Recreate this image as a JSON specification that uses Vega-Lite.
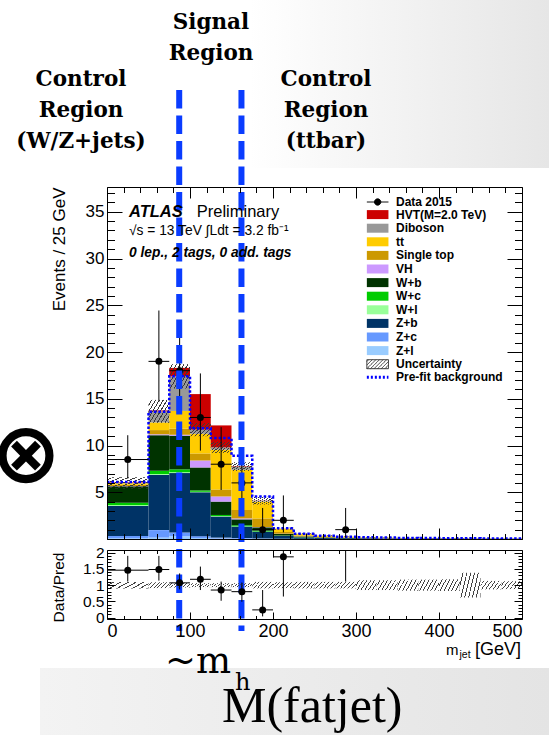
{
  "$schema": "https://vega.github.io/schema/vega-lite/v6.json",
  "padding": {"left": 107, "top": 187, "right": 442, "bottom": 548},
  "autosize": {"type": "none"},
  "background": "#ffffff",
  "bounds": "flush",
  "spacing": 11,
  "config": {
    "view": {"stroke": null},
    "font": "Liberation Sans",
    "axis": {"grid": false, "labelFont": "Liberation Sans", "titleFont": "Liberation Sans", "labelColor": "#000000", "titleColor": "#000000", "tickColor": "#000000", "domainColor": "#000000", "titleFontWeight": "normal"}
  },
  "datasets": {
    "bins": [
      {"lo": 0, "hi": 50, "Z+l": 0.08, "Z+c": 0.25, "Z+b": 3.2, "W+l": 0.1, "W+c": 0.26, "W+b": 1.75, "VH": 0.03, "Single top": 0.12, "tt": 0.17, "Diboson": 0.05, "HVT": 0.05, "prefit": 6.1, "unc": 0.1},
      {"lo": 50, "hi": 75, "Z+l": 0.15, "Z+c": 0.8, "Z+b": 5.9, "W+l": 0.1, "W+c": 0.35, "W+b": 3.8, "VH": 0.1, "Single top": 0.45, "tt": 0.82, "Diboson": 1.18, "HVT": 0.1, "prefit": 13.6, "unc": 0.09},
      {"lo": 75, "hi": 100, "Z+l": 0.3, "Z+c": 0.4, "Z+b": 6.35, "W+l": 0.1, "W+c": 0.3, "W+b": 3.6, "VH": 0.1, "Single top": 0.65, "tt": 1.9, "Diboson": 3.7, "HVT": 0.9, "prefit": 17.4, "unc": 0.075},
      {"lo": 100, "hi": 125, "Z+l": 0.1, "Z+c": 0.2, "Z+b": 4.7, "W+l": 0.05, "W+c": 0.15, "W+b": 2.45, "VH": 0.75, "Single top": 0.75, "tt": 2.1, "Diboson": 0.45, "HVT": 3.8, "prefit": 11.85, "unc": 0.06},
      {"lo": 125, "hi": 150, "Z+l": 0.05, "Z+c": 0.1, "Z+b": 2.25, "W+l": 0.05, "W+c": 0.12, "W+b": 1.43, "VH": 0.55, "Single top": 0.75, "tt": 4.25, "Diboson": 0.25, "HVT": 2.35, "prefit": 10.8, "unc": 0.06},
      {"lo": 150, "hi": 175, "Z+l": 0.03, "Z+c": 0.07, "Z+b": 1.22, "W+l": 0.03, "W+c": 0.12, "W+b": 0.63, "VH": 0.1, "Single top": 0.9, "tt": 4.3, "Diboson": 0.35, "HVT": 0.05, "prefit": 8.9, "unc": 0.06},
      {"lo": 175, "hi": 200, "Z+l": 0.02, "Z+c": 0.04, "Z+b": 0.72, "W+l": 0.02, "W+c": 0.1, "W+b": 0.35, "VH": 0.03, "Single top": 0.92, "tt": 1.8, "Diboson": 0.1, "HVT": 0.02, "prefit": 4.55, "unc": 0.1},
      {"lo": 200, "hi": 225, "Z+l": 0.01, "Z+c": 0.02, "Z+b": 0.3, "W+l": 0.01, "W+c": 0.03, "W+b": 0.18, "VH": 0.02, "Single top": 0.18, "tt": 0.33, "Diboson": 0.02, "HVT": 0.01, "prefit": 1.15, "unc": 0.09},
      {"lo": 225, "hi": 250, "Z+l": 0.01, "Z+c": 0.01, "Z+b": 0.15, "W+l": 0, "W+c": 0.02, "W+b": 0.08, "VH": 0.01, "Single top": 0.1, "tt": 0.15, "Diboson": 0.02, "HVT": 0.01, "prefit": 0.55, "unc": 0.1},
      {"lo": 250, "hi": 275, "Z+l": 0.005, "Z+c": 0.005, "Z+b": 0.1, "W+l": 0, "W+c": 0.01, "W+b": 0.05, "VH": 0, "Single top": 0.06, "tt": 0.1, "Diboson": 0.02, "HVT": 0.01, "prefit": 0.35, "unc": 0.1},
      {"lo": 275, "hi": 300, "Z+l": 0, "Z+c": 0, "Z+b": 0.08, "W+l": 0, "W+c": 0, "W+b": 0.04, "VH": 0, "Single top": 0.04, "tt": 0.07, "Diboson": 0.02, "HVT": 0.005, "prefit": 0.25, "unc": 0.1},
      {"lo": 300, "hi": 325, "Z+l": 0, "Z+c": 0, "Z+b": 0.06, "W+l": 0, "W+c": 0, "W+b": 0.03, "VH": 0, "Single top": 0.03, "tt": 0.05, "Diboson": 0.01, "HVT": 0, "prefit": 0.18, "unc": 0.15},
      {"lo": 325, "hi": 350, "Z+l": 0, "Z+c": 0, "Z+b": 0.05, "W+l": 0, "W+c": 0, "W+b": 0.02, "VH": 0, "Single top": 0.03, "tt": 0.04, "Diboson": 0.01, "HVT": 0, "prefit": 0.15, "unc": 0.15},
      {"lo": 350, "hi": 375, "Z+l": 0, "Z+c": 0, "Z+b": 0.04, "W+l": 0, "W+c": 0, "W+b": 0.02, "VH": 0, "Single top": 0.02, "tt": 0.03, "Diboson": 0.01, "HVT": 0, "prefit": 0.12, "unc": 0.17},
      {"lo": 375, "hi": 400, "Z+l": 0, "Z+c": 0, "Z+b": 0.03, "W+l": 0, "W+c": 0, "W+b": 0.02, "VH": 0, "Single top": 0.02, "tt": 0.02, "Diboson": 0.01, "HVT": 0, "prefit": 0.1, "unc": 0.17},
      {"lo": 400, "hi": 425, "Z+l": 0, "Z+c": 0, "Z+b": 0.03, "W+l": 0, "W+c": 0, "W+b": 0.01, "VH": 0, "Single top": 0.01, "tt": 0.02, "Diboson": 0.01, "HVT": 0, "prefit": 0.08, "unc": 0.18},
      {"lo": 425, "hi": 450, "Z+l": 0, "Z+c": 0, "Z+b": 0.02, "W+l": 0, "W+c": 0, "W+b": 0.01, "VH": 0, "Single top": 0.01, "tt": 0.02, "Diboson": 0.01, "HVT": 0, "prefit": 0.07, "unc": 0.38},
      {"lo": 450, "hi": 475, "Z+l": 0, "Z+c": 0, "Z+b": 0.02, "W+l": 0, "W+c": 0, "W+b": 0.01, "VH": 0, "Single top": 0.01, "tt": 0.01, "Diboson": 0.01, "HVT": 0, "prefit": 0.06, "unc": 0.13},
      {"lo": 475, "hi": 500, "Z+l": 0, "Z+c": 0, "Z+b": 0.02, "W+l": 0, "W+c": 0, "W+b": 0.01, "VH": 0, "Single top": 0.01, "tt": 0.01, "Diboson": 0, "HVT": 0, "prefit": 0.05, "unc": 0.12}
    ],
    "obs": [
      {"lo": 0, "hi": 50, "n": 8.5, "nlo": 6.46, "nhi": 11.1},
      {"lo": 50, "hi": 75, "n": 19, "nlo": 14.68, "nhi": 24.44},
      {"lo": 75, "hi": 100, "n": 18, "nlo": 13.8, "nhi": 23.33},
      {"lo": 100, "hi": 125, "n": 13, "nlo": 9.45, "nhi": 17.71},
      {"lo": 125, "hi": 150, "n": 8, "nlo": 5.24, "nhi": 11.96},
      {"lo": 150, "hi": 175, "n": 6, "nlo": 3.63, "nhi": 9.6},
      {"lo": 175, "hi": 200, "n": 1, "nlo": 0.17, "nhi": 3.32},
      {"lo": 200, "hi": 225, "n": 2, "nlo": 0.71, "nhi": 4.66},
      {"lo": 275, "hi": 300, "n": 1, "nlo": 0.17, "nhi": 3.32}
    ],
    "ratio": [
      {"lo": 0, "hi": 50, "r": 1.46, "rlo": 1.11, "rhi": 1.9},
      {"lo": 50, "hi": 75, "r": 1.48, "rlo": 1.14, "rhi": 1.9},
      {"lo": 75, "hi": 100, "r": 1.07, "rlo": 0.87, "rhi": 1.36},
      {"lo": 100, "hi": 125, "r": 1.18, "rlo": 0.85, "rhi": 1.57},
      {"lo": 125, "hi": 150, "r": 0.85, "rlo": 0.52, "rhi": 1.11},
      {"lo": 150, "hi": 175, "r": 0.8, "rlo": 0.49, "rhi": 1.08},
      {"lo": 175, "hi": 200, "r": 0.24, "rlo": 0.04, "rhi": 0.85},
      {"lo": 200, "hi": 225, "r": 1.87, "rlo": 0.65, "rhi": 4.3},
      {"lo": 275, "hi": 300, "r": 4.0, "rlo": 1.11, "rhi": 13.3}
    ],
    "regions": [{"edge": 87}, {"edge": 162}]
  },
  "vconcat": [
    {
      "width": 415,
      "height": 352,
      "resolve": {"axis": {"x": "independent", "y": "independent"}},
      "layer": [
        {
          "data": {"values": [{}]},
          "mark": {"type": "rect", "fill": "#ffffff", "clip": false},
          "encoding": {
            "x": {"datum": -128.916, "type": "quantitative", "scale": {"domain": [0, 500], "nice": false, "zero": false}, "axis": null},
            "x2": {"datum": 532.53},
            "y": {"datum": 57.65, "type": "quantitative", "scale": {"domain": [0, 37.65], "nice": false, "zero": false}, "axis": null},
            "y2": {"datum": -20.964}
          }
        },
        {
          "data": {"values": [{}]},
          "mark": {"type": "rect", "clip": false, "fill": {"gradient": "linear", "x1": 0, "y1": 0, "x2": 1, "y2": 0, "stops": [{"offset": 0, "color": "#ffffff"}, {"offset": 1, "color": "#e6e6e6"}]}},
          "encoding": {
            "x": {"datum": 172.29, "type": "quantitative", "scale": {"domain": [0, 500], "nice": false, "zero": false}, "axis": null},
            "x2": {"datum": 532.53},
            "y": {"datum": 57.65, "type": "quantitative", "scale": {"domain": [0, 37.65], "nice": false, "zero": false}, "axis": null},
            "y2": {"datum": 39.68}
          }
        },
        {
          "data": {"values": [{}]},
          "mark": {"type": "rect", "clip": false, "fill": {"gradient": "linear", "x1": 0, "y1": 0, "x2": 1, "y2": 0, "stops": [{"offset": 0, "color": "#f3f3f3"}, {"offset": 1, "color": "#e4e4e4"}]}},
          "encoding": {
            "x": {"datum": -80.72, "type": "quantitative", "scale": {"domain": [0, 500], "nice": false, "zero": false}, "axis": null},
            "x2": {"datum": 532.53},
            "y": {"datum": -13.798, "type": "quantitative", "scale": {"domain": [0, 37.65], "nice": false, "zero": false}, "axis": null},
            "y2": {"datum": -20.964}
          }
        },
        {
          "data": {"name": "bins"},
          "transform": [
            {"fold": ["Z+l", "Z+c", "Z+b", "W+l", "W+c", "W+b", "VH", "Single top", "tt", "Diboson", "HVT"], "as": ["key", "n"]},
            {"calculate": "indexof(['Z+l','Z+c','Z+b','W+l','W+c','W+b','VH','Single top','tt','Diboson','HVT'], datum.key)", "as": "k"},
            {"calculate": "datum.key === 'HVT' ? 'HVT(M=2.0 TeV)' : datum.key", "as": "process"},
            {"stack": "n", "groupby": ["lo"], "sort": [{"field": "k", "order": "ascending"}], "as": ["y0", "y1"]}
          ],
          "mark": {"type": "rect"},
          "encoding": {
            "x": {"field": "lo", "type": "quantitative", "scale": {"domain": [0, 500], "nice": false, "zero": false},
              "axis": {"orient": "bottom", "values": [0, 20, 40, 60, 80, 100, 120, 140, 160, 180, 200, 220, 240, 260, 280, 300, 320, 340, 360, 380, 400, 420, 440, 460, 480, 500], "labels": false, "title": null, "domain": true, "domainWidth": 1, "tickWidth": 1, "tickSize": {"condition": {"test": "datum.value % 100 === 0", "value": -11}, "value": -5.5}, "zindex": 1}},
            "x2": {"field": "hi"},
            "y": {"field": "y1", "type": "quantitative", "scale": {"domain": [0, 37.65], "nice": false, "zero": false},
              "axis": {"orient": "left", "values": [5, 10, 15, 20, 25, 30, 35], "ticks": false, "domain": false, "labelFontSize": 17, "labelPadding": 3, "title": "Events / 25 GeV", "titleFontSize": 17, "titleAngle": -90, "titleAlign": "right", "titleBaseline": "alphabetic", "titleX": -43, "titleY": 0, "zindex": 1}},
            "y2": {"field": "y0"},
            "color": {"field": "process", "type": "nominal",
              "scale": {"domain": ["Data 2015", "HVT(M=2.0 TeV)", "Diboson", "tt", "Single top", "VH", "W+b", "W+c", "W+l", "Z+b", "Z+c", "Z+l", "Uncertainty", "Pre-fit background"],
                        "range": ["#000000", "#cc0000", "#999999", "#ffcc00", "#cc9900", "#cc99ff", "#003300", "#00cc00", "#99ff99", "#003366", "#6699ff", "#99ccff", "#ffffff", "#ffffff"]},
              "legend": {
                "orient": "none", "legendX": 264.65, "legendY": 9, "title": null, "padding": 0, "zindex": 1,
                "symbolSize": 81, "rowPadding": -0.4, "labelOffset": 12.35,
                "labelFont": "Liberation Sans", "labelFontSize": 12, "labelFontWeight": "bold", "labelColor": "#000000", "labelBaseline": "middle",
                "encode": {"symbols": {"update": {
                  "shape": {"signal": "datum.value === 'Data 2015' ? 'M-2.4,0H2.4M-0.7,0A0.7,0.7,0,1,0,0.7,0A0.7,0.7,0,1,0,-0.7,0Z' : datum.value === 'Uncertainty' ? 'M-2.4,-1H2.4V1H-2.4ZM-2.4,-0.6L-2,-1M-2.4,0.2L-1.2,-1M-2.4,1L-0.4,-1M-1.6,1L0.4,-1M-0.8,1L1.2,-1M0,1L2,-1M0.8,1L2.4,-0.6M1.6,1L2.4,0.2' : datum.value === 'Pre-fit background' ? 'M-2.4,0H2.4' : 'M-2.4,-1H2.4V1H-2.4Z'"},
                  "stroke": {"signal": "datum.value === 'Data 2015' ? '#000000' : datum.value === 'Uncertainty' ? '#333333' : datum.value === 'Pre-fit background' ? '#0000ff' : 'transparent'"},
                  "strokeWidth": {"signal": "datum.value === 'Pre-fit background' ? 3 : 1"},
                  "strokeDash": {"signal": "datum.value === 'Pre-fit background' ? [2, 2] : [1, 0]"},
                  "opacity": {"value": 1}
                }}}
              }
            }
          }
        },
        {
          "data": {"name": "bins"},
          "transform": [
            {"calculate": "datum['Z+l'] + datum['Z+c'] + datum['Z+b'] + datum['W+l'] + datum['W+c'] + datum['W+b'] + datum['VH'] + datum['Single top'] + datum['tt'] + datum['Diboson']", "as": "bg"},
            {"calculate": "datum.bg * (1 + datum.unc)", "as": "band_hi"},
            {"calculate": "datum.bg * (1 - datum.unc)", "as": "band_lo"}
          ],
          "mark": {"type": "rect", "fill": {"gradient": "linear", "x1": 0, "y1": 0, "x2": 1.1525, "y2": 0.772, "stops": [
            {"offset": 0, "color": "rgba(255,255,255,0)"}, {"offset": 0.08, "color": "rgba(255,255,255,0)"}, {"offset": 0.08, "color": "#3a3a3a"}, {"offset": 0.1111, "color": "#3a3a3a"},
            {"offset": 0.1111, "color": "rgba(255,255,255,0)"}, {"offset": 0.1911, "color": "rgba(255,255,255,0)"}, {"offset": 0.1911, "color": "#3a3a3a"}, {"offset": 0.2222, "color": "#3a3a3a"},
            {"offset": 0.2222, "color": "rgba(255,255,255,0)"}, {"offset": 0.3022, "color": "rgba(255,255,255,0)"}, {"offset": 0.3022, "color": "#3a3a3a"}, {"offset": 0.3333, "color": "#3a3a3a"},
            {"offset": 0.3333, "color": "rgba(255,255,255,0)"}, {"offset": 0.4133, "color": "rgba(255,255,255,0)"}, {"offset": 0.4133, "color": "#3a3a3a"}, {"offset": 0.4444, "color": "#3a3a3a"},
            {"offset": 0.4444, "color": "rgba(255,255,255,0)"}, {"offset": 0.5244, "color": "rgba(255,255,255,0)"}, {"offset": 0.5244, "color": "#3a3a3a"}, {"offset": 0.5556, "color": "#3a3a3a"},
            {"offset": 0.5556, "color": "rgba(255,255,255,0)"}, {"offset": 0.6356, "color": "rgba(255,255,255,0)"}, {"offset": 0.6356, "color": "#3a3a3a"}, {"offset": 0.6667, "color": "#3a3a3a"},
            {"offset": 0.6667, "color": "rgba(255,255,255,0)"}, {"offset": 0.7467, "color": "rgba(255,255,255,0)"}, {"offset": 0.7467, "color": "#3a3a3a"}, {"offset": 0.7778, "color": "#3a3a3a"},
            {"offset": 0.7778, "color": "rgba(255,255,255,0)"}, {"offset": 0.8578, "color": "rgba(255,255,255,0)"}, {"offset": 0.8578, "color": "#3a3a3a"}, {"offset": 0.8889, "color": "#3a3a3a"},
            {"offset": 0.8889, "color": "rgba(255,255,255,0)"}, {"offset": 0.9689, "color": "rgba(255,255,255,0)"}, {"offset": 0.9689, "color": "#3a3a3a"}, {"offset": 1, "color": "#3a3a3a"}
          ]}},
          "encoding": {
            "x": {"field": "lo", "type": "quantitative", "scale": {"domain": [0, 500], "nice": false, "zero": false},
              "axis": {"orient": "top", "values": [0, 20, 40, 60, 80, 100, 120, 140, 160, 180, 200, 220, 240, 260, 280, 300, 320, 340, 360, 380, 400, 420, 440, 460, 480, 500], "labels": false, "title": null, "domain": true, "domainWidth": 1, "tickWidth": 1, "tickSize": {"condition": {"test": "datum.value % 100 === 0", "value": -11}, "value": -5.5}, "zindex": 1}},
            "x2": {"field": "hi"},
            "y": {"field": "band_hi", "type": "quantitative", "scale": {"domain": [0, 37.65], "nice": false, "zero": false},
              "axis": {"orient": "left", "values": [0, 1, 2, 3, 4, 5, 6, 7, 8, 9, 10, 11, 12, 13, 14, 15, 16, 17, 18, 19, 20, 21, 22, 23, 24, 25, 26, 27, 28, 29, 30, 31, 32, 33, 34, 35, 36, 37], "labels": false, "title": null, "domain": true, "domainWidth": 1, "tickWidth": 1, "tickSize": {"condition": {"test": "datum.value % 5 === 0", "value": -15}, "value": -7.5}, "zindex": 1}},
            "y2": {"field": "band_lo"}
          }
        },
        {
          "data": {"name": "bins"},
          "transform": [{"fold": ["lo", "hi"], "as": ["side", "xpos"]}],
          "mark": {"type": "line", "stroke": "#0000ff", "strokeWidth": 2.5, "strokeDash": [2.5, 2], "interpolate": "linear"},
          "encoding": {
            "x": {"field": "xpos", "type": "quantitative", "scale": {"domain": [0, 500], "nice": false, "zero": false}, "axis": null},
            "y": {"field": "prefit", "type": "quantitative", "scale": {"domain": [0, 37.65], "nice": false, "zero": false},
              "axis": {"orient": "right", "values": [0, 1, 2, 3, 4, 5, 6, 7, 8, 9, 10, 11, 12, 13, 14, 15, 16, 17, 18, 19, 20, 21, 22, 23, 24, 25, 26, 27, 28, 29, 30, 31, 32, 33, 34, 35, 36, 37], "labels": false, "title": null, "domain": true, "domainWidth": 1, "tickWidth": 1, "tickSize": {"condition": {"test": "datum.value % 5 === 0", "value": -15}, "value": -7.5}, "zindex": 1}}
          }
        },
        {
          "data": {"name": "obs"},
          "transform": [{"calculate": "(datum.lo + datum.hi) / 2", "as": "c"}],
          "mark": {"type": "rule", "stroke": "#000000", "strokeWidth": 1},
          "encoding": {
            "x": {"field": "c", "type": "quantitative", "scale": {"domain": [0, 500], "nice": false, "zero": false}, "axis": null},
            "y": {"field": "nlo", "type": "quantitative", "scale": {"domain": [0, 37.65], "nice": false, "zero": false}, "axis": null},
            "y2": {"field": "nhi"}
          }
        },
        {
          "data": {"name": "obs"},
          "mark": {"type": "rule", "stroke": "#000000", "strokeWidth": 1},
          "encoding": {
            "x": {"field": "lo", "type": "quantitative", "scale": {"domain": [0, 500], "nice": false, "zero": false}, "axis": null},
            "x2": {"field": "hi"},
            "y": {"field": "n", "type": "quantitative", "scale": {"domain": [0, 37.65], "nice": false, "zero": false}, "axis": null}
          }
        },
        {
          "data": {"name": "obs"},
          "transform": [{"calculate": "(datum.lo + datum.hi) / 2", "as": "c"}],
          "mark": {"type": "point", "filled": true, "fill": "#000000", "size": 49, "opacity": 1, "shape": "circle"},
          "encoding": {
            "x": {"field": "c", "type": "quantitative", "scale": {"domain": [0, 500], "nice": false, "zero": false}, "axis": null},
            "y": {"field": "n", "type": "quantitative", "scale": {"domain": [0, 37.65], "nice": false, "zero": false}, "axis": null}
          }
        },
        {
          "data": {"name": "regions"},
          "mark": {"type": "rule", "stroke": "#0a3cff", "strokeWidth": 6, "strokeDash": [18.5, 7], "clip": false},
          "encoding": {
            "x": {"field": "edge", "type": "quantitative", "scale": {"domain": [0, 500], "nice": false, "zero": false}, "axis": null},
            "y": {"datum": 48.025, "type": "quantitative", "scale": {"domain": [0, 37.65], "nice": false, "zero": false}, "axis": null},
            "y2": {"datum": -9.84}
          }
        },
        {
          "data": {"values": [{}]},
          "mark": {"type": "text", "text": "ATLAS", "font": "Liberation Sans", "fontSize": 16.5, "fontWeight": "bold", "fontStyle": "italic", "align": "left", "baseline": "alphabetic", "color": "#000000"},
          "encoding": {
            "x": {"datum": 26.5, "type": "quantitative", "scale": {"domain": [0, 500], "nice": false, "zero": false}, "axis": null},
            "y": {"datum": 34.47, "type": "quantitative", "scale": {"domain": [0, 37.65], "nice": false, "zero": false}, "axis": null}
          }
        },
        {
          "data": {"values": [{}]},
          "mark": {"type": "text", "text": "Preliminary", "font": "Liberation Sans", "fontSize": 16.5, "align": "left", "baseline": "alphabetic", "color": "#000000"},
          "encoding": {
            "x": {"datum": 108.1, "type": "quantitative", "scale": {"domain": [0, 500], "nice": false, "zero": false}, "axis": null},
            "y": {"datum": 34.47, "type": "quantitative", "scale": {"domain": [0, 37.65], "nice": false, "zero": false}, "axis": null}
          }
        },
        {
          "data": {"values": [{}]},
          "mark": {"type": "text", "text": "√s = 13 TeV ∫Ldt = 3.2 fb⁻¹", "font": "Liberation Sans", "fontSize": 13.8, "align": "left", "baseline": "alphabetic", "color": "#000000"},
          "encoding": {
            "x": {"datum": 26.5, "type": "quantitative", "scale": {"domain": [0, 500], "nice": false, "zero": false}, "axis": null},
            "y": {"datum": 32.52, "type": "quantitative", "scale": {"domain": [0, 37.65], "nice": false, "zero": false}, "axis": null}
          }
        },
        {
          "data": {"values": [{}]},
          "mark": {"type": "text", "text": "0 lep., 2 tags, 0 add. tags", "font": "Liberation Sans", "fontSize": 13.8, "fontWeight": "bold", "fontStyle": "italic", "align": "left", "baseline": "alphabetic", "color": "#000000"},
          "encoding": {
            "x": {"datum": 26.5, "type": "quantitative", "scale": {"domain": [0, 500], "nice": false, "zero": false}, "axis": null},
            "y": {"datum": 30.13, "type": "quantitative", "scale": {"domain": [0, 37.65], "nice": false, "zero": false}, "axis": null}
          }
        },
        {
          "data": {"values": [{}]},
          "mark": {"type": "text", "text": "Control\nRegion\n(W/Z+jets)", "lineBreak": "\n", "lineHeight": 31, "font": "DejaVu Serif", "fontSize": 21.5, "fontWeight": "bold", "align": "center", "baseline": "alphabetic", "color": "#000000", "clip": false},
          "encoding": {
            "x": {"datum": -31.33, "type": "quantitative", "scale": {"domain": [0, 500], "nice": false, "zero": false}, "axis": null},
            "y": {"datum": 48.45, "type": "quantitative", "scale": {"domain": [0, 37.65], "nice": false, "zero": false}, "axis": null}
          }
        },
        {
          "data": {"values": [{}]},
          "mark": {"type": "text", "text": "Signal\nRegion", "lineBreak": "\n", "lineHeight": 31, "font": "DejaVu Serif", "fontSize": 21.5, "fontWeight": "bold", "align": "center", "baseline": "alphabetic", "color": "#000000", "clip": false},
          "encoding": {
            "x": {"datum": 125.3, "type": "quantitative", "scale": {"domain": [0, 500], "nice": false, "zero": false}, "axis": null},
            "y": {"datum": 54.55, "type": "quantitative", "scale": {"domain": [0, 37.65], "nice": false, "zero": false}, "axis": null}
          }
        },
        {
          "data": {"values": [{}]},
          "mark": {"type": "text", "text": "Control\nRegion\n(ttbar)", "lineBreak": "\n", "lineHeight": 31, "font": "DejaVu Serif", "fontSize": 21.5, "fontWeight": "bold", "align": "center", "baseline": "alphabetic", "color": "#000000", "clip": false},
          "encoding": {
            "x": {"datum": 263.86, "type": "quantitative", "scale": {"domain": [0, 500], "nice": false, "zero": false}, "axis": null},
            "y": {"datum": 48.45, "type": "quantitative", "scale": {"domain": [0, 37.65], "nice": false, "zero": false}, "axis": null}
          }
        },
        {
          "data": {"values": [{}]},
          "mark": {"type": "text", "text": "⊗", "font": "DejaVu Sans", "fontSize": 84, "fontWeight": "bold", "align": "center", "baseline": "middle", "color": "#000000", "clip": false},
          "encoding": {
            "x": {"datum": -97.6, "type": "quantitative", "scale": {"domain": [0, 500], "nice": false, "zero": false}, "axis": null},
            "y": {"datum": 8.76, "type": "quantitative", "scale": {"domain": [0, 37.65], "nice": false, "zero": false}, "axis": null}
          }
        },
        {
          "data": {"values": [{}]},
          "mark": {"type": "text", "text": "~m", "font": "DejaVu Serif", "fontSize": 37, "align": "left", "baseline": "alphabetic", "color": "#000000", "clip": false},
          "encoding": {
            "x": {"datum": 69.88, "type": "quantitative", "scale": {"domain": [0, 500], "nice": false, "zero": false}, "axis": null},
            "y": {"datum": -14.333, "type": "quantitative", "scale": {"domain": [0, 37.65], "nice": false, "zero": false}, "axis": null}
          }
        },
        {
          "data": {"values": [{}]},
          "mark": {"type": "text", "text": "h", "font": "DejaVu Serif", "fontSize": 24, "align": "left", "baseline": "alphabetic", "color": "#000000", "clip": false},
          "encoding": {
            "x": {"datum": 154.22, "type": "quantitative", "scale": {"domain": [0, 500], "nice": false, "zero": false}, "axis": null},
            "y": {"datum": -16.15, "type": "quantitative", "scale": {"domain": [0, 37.65], "nice": false, "zero": false}, "axis": null}
          }
        },
        {
          "data": {"values": [{}]},
          "mark": {"type": "text", "text": "M(fatjet)", "font": "Liberation Serif", "fontSize": 50, "align": "left", "baseline": "alphabetic", "color": "#000000", "clip": false},
          "encoding": {
            "x": {"datum": 138.55, "type": "quantitative", "scale": {"domain": [0, 500], "nice": false, "zero": false}, "axis": null},
            "y": {"datum": -19.57, "type": "quantitative", "scale": {"domain": [0, 37.65], "nice": false, "zero": false}, "axis": null}
          }
        }
      ]
    },
    {
      "width": 415,
      "height": 69,
      "resolve": {"axis": {"x": "independent", "y": "independent"}},
      "layer": [
        {
          "data": {"name": "bins"},
          "transform": [
            {"calculate": "1 + datum.unc", "as": "rhi"},
            {"calculate": "1 - datum.unc", "as": "rlo"}
          ],
          "mark": {"type": "rect", "fill": {"gradient": "linear", "x1": 0, "y1": 0, "x2": 1.19, "y2": 0.345, "stops": [
            {"offset": 0, "color": "rgba(255,255,255,0)"}, {"offset": 0.106, "color": "rgba(255,255,255,0)"}, {"offset": 0.106, "color": "#444444"}, {"offset": 0.1429, "color": "#444444"},
            {"offset": 0.1429, "color": "rgba(255,255,255,0)"}, {"offset": 0.2487, "color": "rgba(255,255,255,0)"}, {"offset": 0.2487, "color": "#444444"}, {"offset": 0.2857, "color": "#444444"},
            {"offset": 0.2857, "color": "rgba(255,255,255,0)"}, {"offset": 0.3916, "color": "rgba(255,255,255,0)"}, {"offset": 0.3916, "color": "#444444"}, {"offset": 0.4286, "color": "#444444"},
            {"offset": 0.4286, "color": "rgba(255,255,255,0)"}, {"offset": 0.5344, "color": "rgba(255,255,255,0)"}, {"offset": 0.5344, "color": "#444444"}, {"offset": 0.5714, "color": "#444444"},
            {"offset": 0.5714, "color": "rgba(255,255,255,0)"}, {"offset": 0.6773, "color": "rgba(255,255,255,0)"}, {"offset": 0.6773, "color": "#444444"}, {"offset": 0.7143, "color": "#444444"},
            {"offset": 0.7143, "color": "rgba(255,255,255,0)"}, {"offset": 0.8201, "color": "rgba(255,255,255,0)"}, {"offset": 0.8201, "color": "#444444"}, {"offset": 0.8571, "color": "#444444"},
            {"offset": 0.8571, "color": "rgba(255,255,255,0)"}, {"offset": 0.963, "color": "rgba(255,255,255,0)"}, {"offset": 0.963, "color": "#444444"}, {"offset": 1, "color": "#444444"}
          ]}},
          "encoding": {
            "x": {"field": "lo", "type": "quantitative", "scale": {"domain": [0, 500], "nice": false, "zero": false},
              "axis": {"orient": "bottom", "values": [0, 100, 200, 300, 400, 500], "ticks": false, "domain": false, "labelFontSize": 18, "labelPadding": 3, "title": null, "zindex": 1}},
            "x2": {"field": "hi"},
            "y": {"field": "rhi", "type": "quantitative", "scale": {"domain": [-0.04, 2.08], "nice": false, "zero": false},
              "axis": {"orient": "left", "values": [0, 0.5, 1, 1.5, 2], "format": "~g", "ticks": false, "domain": false, "labelFontSize": 15.5, "labelPadding": 3, "title": "Data/Pred", "titleFontSize": 15.5, "titleAngle": -90, "titleAlign": "center", "titleBaseline": "alphabetic", "titleX": -44, "titleY": 37, "zindex": 1}},
            "y2": {"field": "rlo"}
          }
        },
        {
          "data": {"name": "ratio"},
          "transform": [{"calculate": "(datum.lo + datum.hi) / 2", "as": "c"}],
          "mark": {"type": "rule", "stroke": "#000000", "strokeWidth": 1, "clip": true},
          "encoding": {
            "x": {"field": "c", "type": "quantitative", "scale": {"domain": [0, 500], "nice": false, "zero": false},
              "axis": {"orient": "bottom", "values": [0, 20, 40, 60, 80, 100, 120, 140, 160, 180, 200, 220, 240, 260, 280, 300, 320, 340, 360, 380, 400, 420, 440, 460, 480, 500], "labels": false, "title": null, "domain": true, "domainWidth": 1, "tickWidth": 1, "tickSize": {"condition": {"test": "datum.value % 100 === 0", "value": -7}, "value": -3.5}, "zindex": 1}},
            "y": {"field": "rlo", "type": "quantitative", "scale": {"domain": [-0.04, 2.08], "nice": false, "zero": false},
              "axis": {"orient": "left", "values": [0, 0.1, 0.2, 0.3, 0.4, 0.5, 0.6, 0.7, 0.8, 0.9, 1, 1.1, 1.2, 1.3, 1.4, 1.5, 1.6, 1.7, 1.8, 1.9, 2], "labels": false, "title": null, "domain": true, "domainWidth": 1, "tickWidth": 1, "tickSize": {"condition": {"test": "datum.value % 0.5 === 0", "value": -8}, "value": -4}, "zindex": 1}},
            "y2": {"field": "rhi"}
          }
        },
        {
          "data": {"name": "ratio"},
          "mark": {"type": "rule", "stroke": "#000000", "strokeWidth": 1, "clip": true},
          "encoding": {
            "x": {"field": "lo", "type": "quantitative", "scale": {"domain": [0, 500], "nice": false, "zero": false}, "axis": null},
            "x2": {"field": "hi"},
            "y": {"field": "r", "type": "quantitative", "scale": {"domain": [-0.04, 2.08], "nice": false, "zero": false}, "axis": null}
          }
        },
        {
          "data": {"name": "ratio"},
          "transform": [{"calculate": "(datum.lo + datum.hi) / 2", "as": "c"}],
          "mark": {"type": "point", "filled": true, "fill": "#000000", "size": 49, "opacity": 1, "shape": "circle", "clip": true},
          "encoding": {
            "x": {"field": "c", "type": "quantitative", "scale": {"domain": [0, 500], "nice": false, "zero": false},
              "axis": {"orient": "top", "values": [0, 20, 40, 60, 80, 100, 120, 140, 160, 180, 200, 220, 240, 260, 280, 300, 320, 340, 360, 380, 400, 420, 440, 460, 480, 500], "labels": false, "title": null, "domain": true, "domainWidth": 1, "tickWidth": 1, "tickSize": {"condition": {"test": "datum.value % 100 === 0", "value": -7}, "value": -3.5}, "zindex": 1}},
            "y": {"field": "r", "type": "quantitative", "scale": {"domain": [-0.04, 2.08], "nice": false, "zero": false},
              "axis": {"orient": "right", "values": [0, 0.1, 0.2, 0.3, 0.4, 0.5, 0.6, 0.7, 0.8, 0.9, 1, 1.1, 1.2, 1.3, 1.4, 1.5, 1.6, 1.7, 1.8, 1.9, 2], "labels": false, "title": null, "domain": true, "domainWidth": 1, "tickWidth": 1, "tickSize": {"condition": {"test": "datum.value % 0.5 === 0", "value": -8}, "value": -4}, "zindex": 1}}
          }
        },
        {
          "data": {"values": [{}]},
          "mark": {"type": "text", "text": "m", "font": "Liberation Sans", "fontSize": 15, "align": "left", "baseline": "alphabetic", "color": "#000000", "clip": false},
          "encoding": {
            "x": {"datum": 408.4, "type": "quantitative", "scale": {"domain": [0, 500], "nice": false, "zero": false}, "axis": null},
            "y": {"datum": -1.146, "type": "quantitative", "scale": {"domain": [-0.04, 2.08], "nice": false, "zero": false}, "axis": null}
          }
        },
        {
          "data": {"values": [{}]},
          "mark": {"type": "text", "text": "jet", "font": "Liberation Sans", "fontSize": 10.5, "align": "left", "baseline": "alphabetic", "color": "#000000", "clip": false},
          "encoding": {
            "x": {"datum": 424.7, "type": "quantitative", "scale": {"domain": [0, 500], "nice": false, "zero": false}, "axis": null},
            "y": {"datum": -1.238, "type": "quantitative", "scale": {"domain": [-0.04, 2.08], "nice": false, "zero": false}, "axis": null}
          }
        },
        {
          "data": {"values": [{}]},
          "mark": {"type": "text", "text": "[GeV]", "font": "Liberation Sans", "fontSize": 18, "align": "left", "baseline": "alphabetic", "color": "#000000", "clip": false},
          "encoding": {
            "x": {"datum": 443.4, "type": "quantitative", "scale": {"domain": [0, 500], "nice": false, "zero": false}, "axis": null},
            "y": {"datum": -1.146, "type": "quantitative", "scale": {"domain": [-0.04, 2.08], "nice": false, "zero": false}, "axis": null}
          }
        }
      ]
    }
  ]
}
